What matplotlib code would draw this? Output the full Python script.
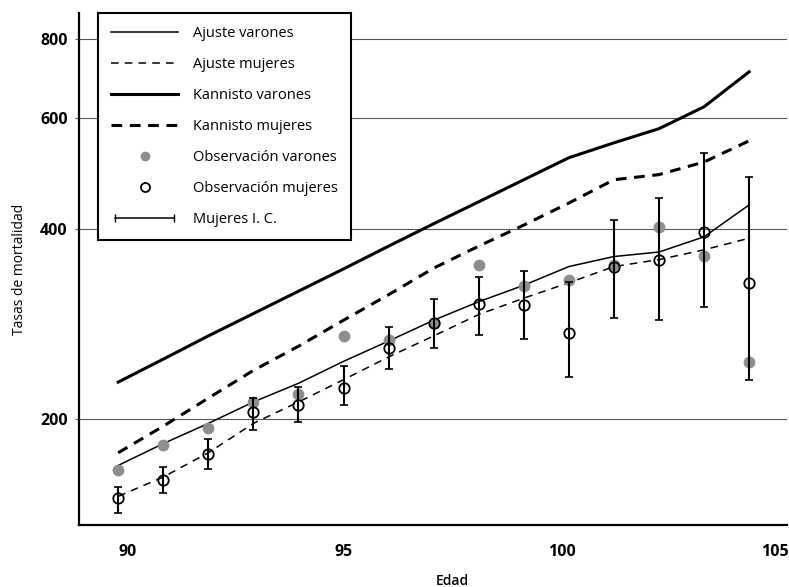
import numpy as np
import matplotlib
matplotlib.use('Agg')
import matplotlib.pyplot as plt
from matplotlib.lines import Line2D
from matplotlib.legend_handler import HandlerLine2D
from matplotlib.ticker import FixedLocator, NullLocator

plt.rcParams['font.family'] = ['Open Sans', 'DejaVu Sans']

# Datos
edad = [90, 91, 92, 93, 94, 95, 96, 97, 98, 99, 100, 101, 102, 103, 104]

ajuste_varones = [169, 183, 197, 213, 228, 247, 266, 287, 307, 326, 349, 362, 368, 389, 437]
ajuste_mujeres = [151, 162, 177, 197, 213, 231, 251, 271, 293, 311, 329, 349, 358, 371, 387]
kannisto_varones = [229, 249, 271, 294, 319, 346, 376, 408, 442, 479, 519, 548, 577, 625, 710]
kannisto_mujeres = [177, 195, 216, 239, 261, 287, 315, 347, 376, 406, 440, 479, 488, 511, 552]

obs_varones = [166, 182, 194, 213, 219, 271, 267, 284, 351, 325, 332, 351, 403, 363, 246]
obs_mujeres = [150, 160, 176, 205, 211, 224, 259, 284, 305, 303, 274, 349, 358, 396, 329]
ic_inf = [142, 153, 167, 192, 198, 211, 240, 259, 272, 268, 233, 289, 287, 301, 231]
ic_sup = [156, 168, 186, 216, 225, 243, 280, 310, 336, 344, 330, 414, 448, 528, 484]

yticks = [200, 400, 600, 800]
xtick_pos = [90.2, 95.0, 99.85, 104.58]
xtick_labels = ['90', '95', '100', '105']

fig = plt.figure(figsize=(7.89, 5.87), dpi=100)
ax = fig.add_axes([0.1001, 0.1056, 0.8974, 0.8724])

ax.set_yscale('log')
ax.set_ylim(136, 880)
ax.set_xlim(89.13, 104.84)

ax.plot(edad, ajuste_varones, color='black', lw=1.1, zorder=3)
ax.plot(edad, ajuste_mujeres, color='black', lw=1.1, dashes=(5, 4), zorder=3)
ax.plot(edad, kannisto_varones, color='black', lw=2.2, zorder=3)
ax.plot(edad, kannisto_mujeres, color='black', lw=2.2, dashes=(3.5, 2.5), zorder=3)

ax.plot(edad, obs_varones, ls='none', marker='o', ms=8.5, mfc='#8e8e8e', mec='none', zorder=4)

obs_m = np.array(obs_mujeres)
err = [obs_m - np.array(ic_inf), np.array(ic_sup) - obs_m]
ax.errorbar(edad, obs_mujeres, yerr=err, fmt='none', ecolor='black', elinewidth=1.5,
            capsize=3, capthick=1.2, zorder=5)
ax.plot(edad, obs_mujeres, ls='none', marker='o', ms=7.5, mfc='none', mec='black',
        mew=1.3, zorder=6)

# ejes
for s in ['top', 'right']:
    ax.spines[s].set_visible(False)
for s in ['left', 'bottom']:
    ax.spines[s].set_linewidth(1.6)
    ax.spines[s].set_color('black')

ax.yaxis.set_major_locator(FixedLocator(yticks))
ax.yaxis.set_minor_locator(NullLocator())
ax.set_yticklabels([str(v) for v in yticks])
ax.set_xticks(xtick_pos)
ax.set_xticklabels(xtick_labels)
ax.tick_params(axis='y', length=3, width=0.8, color='#555555', pad=5, labelsize=11.5)
ax.tick_params(axis='x', length=0, pad=14, labelsize=11.5)
for lab in ax.get_xticklabels() + ax.get_yticklabels():
    lab.set_fontweight('bold')

ax.yaxis.grid(True, color='#555555', lw=0.8)
ax.set_axisbelow(True)

ax.set_ylabel('Tasas de mortalidad', fontsize=10)
ax.yaxis.set_label_coords(-0.074, 0.5)
ax.set_xlabel('Edad', fontsize=10, fontweight='semibold')
ax.xaxis.set_label_coords(0.527, -0.095)

# leyenda
h1 = Line2D([], [], color='black', lw=1.1)
h2 = Line2D([], [], color='black', lw=1.1, dashes=(5, 4))
h3 = Line2D([], [], color='black', lw=2.2)
h4 = Line2D([], [], color='black', lw=2.2, dashes=(3.5, 2.5))
h5 = Line2D([], [], ls='none', marker='o', ms=7, mfc='#8e8e8e', mec='none')
h6 = Line2D([], [], ls='none', marker='o', ms=6.5, mfc='none', mec='black', mew=1.3)
h7 = Line2D([], [], color='black', lw=1.1, marker='|', ms=6, mew=1)
leg = ax.legend([h1, h2, h3, h4, h5, h6, h7],
                ['Ajuste varones', 'Ajuste mujeres', 'Kannisto varones', 'Kannisto mujeres',
                 'Observación varones', 'Observación mujeres', 'Mujeres I. C.'],
                loc='upper left', bbox_to_anchor=(0.0268, 1.0), borderaxespad=0,
                fancybox=False, framealpha=1, edgecolor='black', fontsize=10.5,
                handlelength=4.6, handletextpad=1.0, labelspacing=1.1, borderpad=0.9,
                handler_map={h7: HandlerLine2D(numpoints=2)})
leg.get_frame().set_linewidth(1.5)
leg.set_zorder(10)

fig.savefig('out.png', dpi=100)
